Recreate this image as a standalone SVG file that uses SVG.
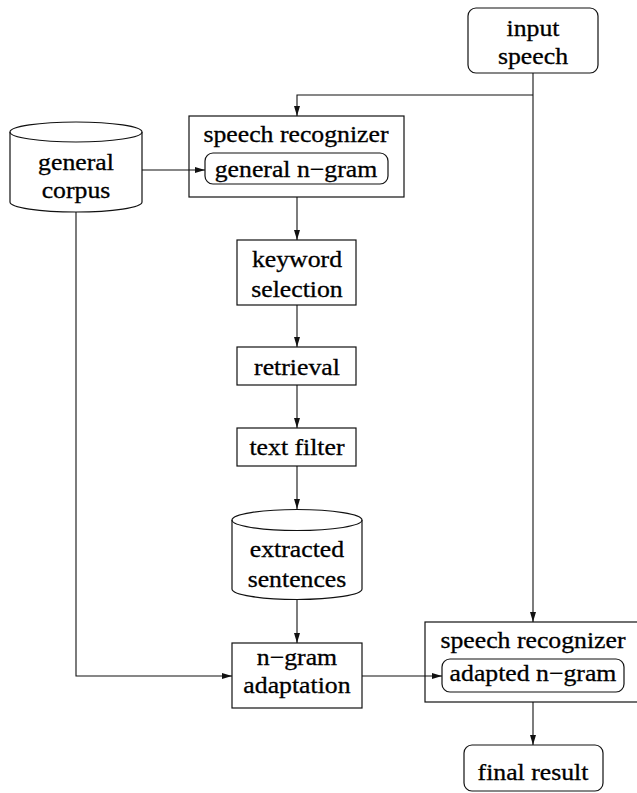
<svg xmlns="http://www.w3.org/2000/svg" width="637" height="793" viewBox="0 0 637 793">
<style>
.box{fill:#fff;stroke:#111;stroke-width:1.2}
.ln{fill:none;stroke:#111;stroke-width:1.1}
.t{font-size:23px;fill:#000;stroke:#000;stroke-width:0.3;text-anchor:middle;transform-box:fill-box;transform-origin:center;transform:scaleX(1.12)}
</style>
<defs>
<marker id="ah" viewBox="0 0 10 6" refX="10" refY="3" markerWidth="10" markerHeight="6" markerUnits="userSpaceOnUse" orient="auto">
<path d="M0,0 L10,3 L0,6 Z" fill="#111"/>
</marker>
</defs>
<rect width="637" height="793" fill="#fff"/>
<g font-family="'Liberation Serif', 'Times New Roman', serif">
<g id="input-speech">
<rect class="box" x="468" y="8" width="130" height="65" rx="8"/>
<text class="t" x="533" y="36">input</text>
<text class="t" x="533" y="64">speech</text>
</g>
<g id="general-corpus">
<path class="box" d="M10,132 A66,10 0 0 1 142,132 V202 A66,10 0 0 1 10,202 Z"/>
<path class="ln" d="M10,132 A66,10 0 0 0 142,132"/>
<text class="t" x="76" y="170">general</text>
<text class="t" x="76" y="198">corpus</text>
</g>
<g id="speech-recognizer-1">
<rect class="box" x="189" y="116" width="215" height="81"/>
<text class="t" x="296" y="142">speech recognizer</text>
<rect class="box" x="205" y="153" width="183" height="31" rx="8"/>
<text class="t" x="296" y="177">general n−gram</text>
</g>
<g id="keyword-selection">
<rect class="box" x="237" y="240" width="119" height="65"/>
<text class="t" x="297" y="267">keyword</text>
<text class="t" x="297" y="297">selection</text>
</g>
<g id="retrieval">
<rect class="box" x="237" y="347" width="119" height="38"/>
<text class="t" x="297" y="375">retrieval</text>
</g>
<g id="text-filter">
<rect class="box" x="237" y="428" width="119" height="38"/>
<text class="t" x="297" y="455">text filter</text>
</g>
<g id="extracted-sentences">
<path class="box" d="M232,520 A65,10.5 0 0 1 362,520 V589 A65,10.5 0 0 1 232,589 Z"/>
<path class="ln" d="M232,520 A65,10.5 0 0 0 362,520"/>
<text class="t" x="297" y="557">extracted</text>
<text class="t" x="297" y="587">sentences</text>
</g>
<g id="ngram-adaptation">
<rect class="box" x="232" y="643" width="130" height="65"/>
<text class="t" x="297" y="665">n−gram</text>
<text class="t" x="297" y="693">adaptation</text>
</g>
<g id="speech-recognizer-2">
<rect class="box" x="425" y="622" width="216" height="80"/>
<text class="t" x="533" y="648">speech recognizer</text>
<rect class="box" x="442" y="659" width="182" height="33" rx="8"/>
<text class="t" x="533" y="681">adapted n−gram</text>
</g>
<g id="final-result">
<rect class="box" x="464" y="745" width="139" height="46" rx="8"/>
<text class="t" x="533" y="780">final result</text>
</g>
</g>
<g id="connectors">
<path class="ln" d="M533,73 V622" marker-end="url(#ah)"/>
<path class="ln" d="M533,95 H297 V116" marker-end="url(#ah)"/>
<path class="ln" d="M142,170 H205" marker-end="url(#ah)"/>
<path class="ln" d="M297,197 V240" marker-end="url(#ah)"/>
<path class="ln" d="M297,305 V347" marker-end="url(#ah)"/>
<path class="ln" d="M297,385 V428" marker-end="url(#ah)"/>
<path class="ln" d="M297,466 V509" marker-end="url(#ah)"/>
<path class="ln" d="M297,600 V643" marker-end="url(#ah)"/>
<path class="ln" d="M76,212 V676 H232" marker-end="url(#ah)"/>
<path class="ln" d="M362,676 H442" marker-end="url(#ah)"/>
<path class="ln" d="M533,702 V745" marker-end="url(#ah)"/>
</g>
</svg>
